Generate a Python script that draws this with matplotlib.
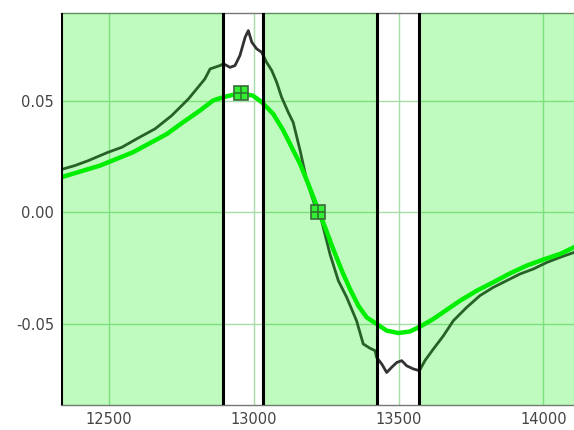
import numpy as np
import matplotlib.pyplot as plt

# measured spectrum (dark trace)
data_x = [12334, 12342, 12382, 12428, 12497, 12544, 12601, 12659, 12716, 12774, 12831, 12849,
          12883, 12895, 12918, 12935, 12952, 12970, 12981, 12993, 13010, 13027, 13044, 13062,
          13079, 13096, 13119, 13136, 13160, 13183, 13211, 13234, 13263, 13292, 13321, 13355,
          13378, 13401, 13419, 13424, 13442, 13459, 13476, 13494, 13511, 13528, 13551, 13572,
          13591, 13620, 13655, 13689, 13735, 13781, 13827, 13873, 13919, 13966, 14012, 14058, 14106]
data_y = [0.0192, 0.0195, 0.0210, 0.0232, 0.0270, 0.0292, 0.0334, 0.0375, 0.0434, 0.0509, 0.0599, 0.0644,
          0.0659, 0.0667, 0.0651, 0.0659, 0.0704, 0.0786, 0.0816, 0.0764, 0.0734, 0.0719, 0.0674, 0.0637,
          0.0584, 0.0517, 0.0449, 0.0404, 0.0277, 0.0142, 0.0030, -0.0037, -0.0187, -0.0307, -0.0382, -0.0487,
          -0.0591, -0.0610, -0.0621, -0.0651, -0.0681, -0.0719, -0.0696, -0.0674, -0.0666, -0.0689, -0.0703, -0.0711,
          -0.0666, -0.0614, -0.0554, -0.0487, -0.0427, -0.0374, -0.0337, -0.0307, -0.0277, -0.0254, -0.0225, -0.0202, -0.0180]

# fitted curve (bright green)
fit_x = [12334, 12341, 12469, 12583, 12700, 12755, 12814, 12859, 12894, 12952, 12997, 13028,
         13067, 13102, 13131, 13160, 13188, 13217, 13246, 13274, 13304, 13332, 13361, 13390,
         13424, 13459, 13499, 13539, 13574, 13620, 13666, 13712, 13770, 13827, 13885, 13943,
         14000, 14058, 14106]
fit_y = [0.0157, 0.0160, 0.0210, 0.0270, 0.0352, 0.0404, 0.0457, 0.0502, 0.0517, 0.0535, 0.0524, 0.0494,
         0.0442, 0.0367, 0.0292, 0.0217, 0.0128, 0.0030, -0.0067, -0.0164, -0.0262, -0.0344, -0.0419, -0.0472,
         -0.0501, -0.0531, -0.0542, -0.0535, -0.0513, -0.0479, -0.0438, -0.0397, -0.0352, -0.0314, -0.0274, -0.0239,
         -0.0212, -0.0187, -0.0157]

# fit control points
pts_x = [12955, 13222]
pts_y = [0.0537, 0.0]

# excluded regions and limits
excl = [(12892, 13031), (13424, 13572)]
xlim = (12334, 14106)
ylim = (-0.0865, 0.0895)
xticks = [12500, 13000, 13500, 14000]
yticks = [-0.05, 0.0, 0.05]

plt.rcParams['font.family'] = ['DejaVu Sans']

fig = plt.figure(figsize=(5.74, 4.30), dpi=100)
ax = fig.add_axes([61 / 574, 25 / 430, 1 - 61 / 574, (405 - 13) / 430])

ax.plot(data_x, data_y, color='#333333', lw=2.0, zorder=2)

# green included regions drawn over the data trace
edges = [xlim[0]] + [v for pair in excl for v in pair] + [xlim[1]]
for a, b in zip(edges[0::2], edges[1::2]):
    ax.axvspan(a, b, color='#00ee00', alpha=0.25, lw=0, zorder=3)

ax.plot(fit_x, fit_y, color='#00ee00', lw=3.2, zorder=4)

for v in [xlim[0]] + [v for pair in excl for v in pair]:
    ax.axvline(v, color='black', lw=2.2, zorder=5)

ax.plot(pts_x, pts_y, 's', ms=10, mfc='#33ee33', mec='#3a6a3a', mew=1.2, zorder=6)
ax.plot(pts_x, pts_y, '+', ms=10, color='#2a7a2a', mew=1.2, zorder=7)

ax.set_xlim(*xlim)
ax.set_ylim(*ylim)
ax.set_xticks(xticks)
ax.set_yticks(yticks)
ax.set_xticklabels([str(t) for t in xticks])
ax.set_yticklabels(['%.2f' % t for t in yticks])
ax.grid(True, color='#a8dca8', lw=1, zorder=1)
ax.tick_params(length=0, labelsize=10.5, labelcolor='#444444', pad=5)

for side in ['top', 'bottom']:
    ax.spines[side].set_color('#777777')
    ax.spines[side].set_linewidth(1)
ax.spines['right'].set_visible(False)
ax.spines['left'].set_visible(False)

fig.savefig('out.png', dpi=100)
